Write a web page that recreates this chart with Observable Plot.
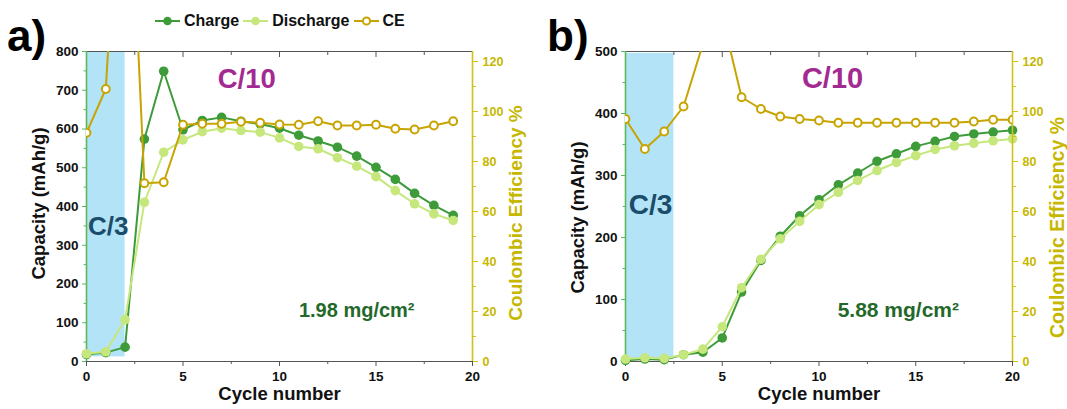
<!DOCTYPE html>
<html>
<head>
<meta charset="utf-8">
<script src="https://cdn.jsdelivr.net/npm/d3@7"></script>
<script src="https://cdn.jsdelivr.net/npm/@observablehq/plot@0.6"></script>
<style>
  html, body { margin: 0; padding: 0; background: #ffffff; }
  #wrap { position: relative; width: 1067px; height: 409px; overflow: hidden; font-family: "Liberation Sans", Arial, sans-serif; }
  .layer { position: absolute; top: 0; }
  .panel-letter { position: absolute; font-weight: bold; font-size: 44px; color: #000; line-height: 1; }
  #legend { position: absolute; left: 155px; top: 12px; display: flex; align-items: center; font-weight: bold; font-size: 16px; color: #111; white-space: nowrap; }
  #legend .item { display: flex; align-items: center; margin-right: 4px; }
  #legend svg { margin-right: 4px; }
</style>
</head>
<body>
<div id="wrap"></div>
<script>
// ---------- data ----------
const cyclesA    = [0, 1, 2, 3, 4, 5, 6, 7, 8, 9, 10, 11, 12, 13, 14, 15, 16, 17, 18, 19];
const chargeA    = [18, 23, 37, 574, 749, 598, 622, 630, 620, 613, 602, 584, 569, 553, 530, 501, 470, 434, 403, 377];
const dischargeA = [20, 25, 108, 411, 540, 572, 593, 602, 596, 592, 577, 555, 549, 526, 504, 477, 441, 407, 381, 364];
const ceA        = [91.5, 109, 240, 71.3, 71.7, 94.7, 95.1, 95.1, 95.9, 95.5, 94.8, 94.7, 96.1, 94.4, 94.4, 94.7, 93.1, 92.8, 94.4, 96.1];

const cyclesB    = [0, 1, 2, 3, 4, 5, 6, 7, 8, 9, 10, 11, 12, 13, 14, 15, 16, 17, 18, 19, 20];
const chargeB    = [2, 4, 3, 11, 15, 38, 112, 163, 202, 235, 261, 285, 304, 323, 335, 347, 355, 363, 367, 370, 373];
const dischargeB = [4, 6, 5, 11, 20, 56, 119, 165, 198, 226, 253, 273, 292, 308, 321, 332, 342, 348, 352, 356, 359];
const ceB        = [97, 85, 92, 102, 127, 138, 105.7, 101, 98, 97, 96.4, 95.5, 95.5, 95.5, 95.5, 95.5, 95.5, 95.5, 96, 96.7, 96.7];

const rateRegionA = [0, 2, 12, 800];   // C/3 shaded span: cycle from, cycle to, capacity from, capacity to
const rateRegionB = [0, 2.5, 3, 497];

const xTicks   = [0, 5, 10, 15, 20];
const xMinor   = [2.5, 7.5, 12.5, 17.5];
const yTicksA  = [0, 100, 200, 300, 400, 500, 600, 700, 800];
const yMinorA  = [50, 150, 250, 350, 450, 550, 650, 750];
const yTicksB  = [0, 100, 200, 300, 400, 500];
const yMinorB  = [50, 150, 250, 350, 450];
const ceTicks  = [0, 20, 40, 60, 80, 100, 120];
const ceMinor  = [10, 30, 50, 70, 90, 110];

const seriesNames = ["Charge", "Discharge", "CE"];
const loadingA = "1.98 mg/cm²";
const loadingB = "5.88 mg/cm²";

// ---------- styles ----------
const FONT = "Liberation Sans, Arial, sans-serif";
const C_CHARGE = "#3d9b3a";
const C_DISCH  = "#c6e77c";
const C_CE     = "#c8a400";
const C_RAXIS  = "#cfc21c";
const C_RTEXT  = "#c6b700";
const C_LAXIS  = "#5cb85c";
const C_FRAME  = "#555555";
const C_SHADE  = "#b3e3f6";
const C_PURPLE = "#a32a90";
const C_C3     = "#1b4d6b";
const C_LOAD   = "#24692b";

const wrap = document.getElementById("wrap");

function makePanel(o) {
  const rows = o.cycles.map((c, i) => ({cycle: c, charge: o.charge[i], discharge: o.discharge[i], ce: o.ce[i]}));
  const common = {
    width: o.width, height: 409,
    marginLeft: o.mLeft, marginRight: o.mRight, marginTop: 51, marginBottom: 48,
    style: {background: "transparent", overflow: "visible", fontFamily: FONT}
  };
  const cap = Plot.plot({
    ...common,
    x: {domain: [0, 20]},
    y: {domain: [0, o.yMax]},
    marks: [
      Plot.rect([o.region], {x1: d => d[0], x2: d => d[1], y1: d => d[2], y2: d => d[3], fill: C_SHADE}),
      Plot.ruleY([o.yMax], {stroke: C_FRAME, strokeWidth: 1.2}),
      Plot.ruleY([0], {stroke: C_FRAME, strokeWidth: 1.2}),
      Plot.axisX(xTicks, {anchor: "bottom", tickSize: 5, tickPadding: 5, fontSize: 13.5, fontWeight: "bold", fill: "#111", stroke: C_FRAME, label: null}),
      Plot.axisX(xMinor, {anchor: "bottom", tickSize: 3, tickFormat: () => "", stroke: C_FRAME, label: null}),
      Plot.axisX(xTicks, {anchor: "top", tickSize: -5, tickFormat: () => "", stroke: C_FRAME, label: null}),
      Plot.axisX(xMinor, {anchor: "top", tickSize: -3, tickFormat: () => "", stroke: C_FRAME, label: null}),
      Plot.axisY(o.yTicks, {anchor: "left", tickSize: 4, tickPadding: 4, fontSize: 13.5, fontWeight: "bold", fill: "#111", stroke: C_LAXIS, label: null}),
      Plot.axisY(o.yMinor, {anchor: "left", tickSize: 2.5, tickFormat: () => "", stroke: C_LAXIS, label: null}),
      Plot.ruleX([0], {stroke: C_LAXIS, strokeWidth: 1.6}),
      Plot.line(rows, {x: "cycle", y: "charge", stroke: C_CHARGE, strokeWidth: 2}),
      Plot.dot(rows, {x: "cycle", y: "charge", r: 4.8, fill: C_CHARGE}),
      Plot.line(rows, {x: "cycle", y: "discharge", stroke: C_DISCH, strokeWidth: 2}),
      Plot.dot(rows, {x: "cycle", y: "discharge", r: 4.8, fill: C_DISCH}),
      Plot.text([{t: "C/3", x: o.c3[0], y: o.c3[1]}], {x: "x", y: "y", text: "t", fill: C_C3, fontSize: o.c3[2], fontWeight: "bold"}),
      Plot.text([{t: "C/10", x: o.c10[0], y: o.c10[1]}], {x: "x", y: "y", text: "t", fill: C_PURPLE, fontSize: o.c10[2], fontWeight: "bold"}),
      Plot.text([{t: o.loading, x: o.load[0], y: o.load[1]}], {x: "x", y: "y", text: "t", fill: C_LOAD, fontSize: o.load[2], fontWeight: "bold"}),
      Plot.text(["Capacity (mAh/g)"], {frameAnchor: "left", textAnchor: "middle", rotate: -90, dx: -47.5, dy: o.capDy, fontSize: 18.5, fontWeight: "bold", fill: "#111"}),
      Plot.text(["Cycle number"], {frameAnchor: "bottom", dy: 38, fontSize: 18.5, fontWeight: "bold", fill: "#111"})
    ]
  });
  const ce = Plot.plot({
    ...common,
    x: {domain: [0, 20], axis: null},
    y: {domain: [0, 124]},
    marks: [
      Plot.axisY(ceTicks, {anchor: "right", tickSize: 5, tickPadding: 5, fontSize: 12.5, fontWeight: "bold", fill: C_RTEXT, stroke: C_RAXIS, label: null}),
      Plot.axisY(ceMinor, {anchor: "right", tickSize: 3, tickFormat: () => "", stroke: C_RAXIS, label: null}),
      Plot.ruleX([20], {stroke: C_RAXIS, strokeWidth: 1.6}),
      Plot.line(rows, {x: "cycle", y: "ce", stroke: C_CE, strokeWidth: 2, clip: true}),
      Plot.dot(rows, {x: "cycle", y: "ce", r: 3.9, stroke: C_CE, strokeWidth: 2, fill: "white", clip: true}),
      Plot.text(["Coulombic Efficiency %"], {frameAnchor: "right", textAnchor: "middle", rotate: -90, dx: o.ceDx, dy: o.ceDy, fontSize: o.ceFs, fontWeight: "bold", fill: C_RTEXT})
    ]
  });
  for (const svg of [cap, ce]) {
    svg.classList.add("layer");
    svg.style.left = o.left + "px";
    wrap.appendChild(svg);
  }
  const letter = document.createElement("div");
  letter.className = "panel-letter";
  letter.textContent = o.letter;
  letter.style.left = o.letterX + "px";
  letter.style.top = "14px";
  wrap.appendChild(letter);
}

makePanel({
  letter: "a)", letterX: 7, left: 0, width: 540, mLeft: 86, mRight: 68,
  cycles: cyclesA, charge: chargeA, discharge: dischargeA, ce: ceA,
  yMax: 800, yTicks: yTicksA, yMinor: yMinorA, region: rateRegionA,
  c3: [1.13, 347, 26], c10: [8.3, 729, 27.5], load: [14.0, 131, 20], loading: loadingA,
  capDy: -3, ceDx: 43, ceDy: 6.5, ceFs: 19
});
makePanel({
  letter: "b)", letterX: 547, left: 540, width: 527, mLeft: 85, mRight: 55,
  cycles: cyclesB, charge: chargeB, discharge: dischargeB, ce: ceB,
  yMax: 500, yTicks: yTicksB, yMinor: yMinorB, region: rateRegionB,
  c3: [1.29, 252, 28], c10: [10.7, 456, 29], load: [14.1, 82, 21], loading: loadingB,
  capDy: 11, ceDx: 45, ceDy: 21, ceFs: 19.5
});

// ---------- legend ----------
const legend = document.createElement("div");
legend.id = "legend";
const symbols = {
  "Charge":    `<svg width="25" height="12"><line x1="0" y1="6" x2="25" y2="6" stroke="${C_CHARGE}" stroke-width="2"/><circle cx="12.5" cy="6" r="4.3" fill="${C_CHARGE}"/></svg>`,
  "Discharge": `<svg width="25" height="12"><line x1="0" y1="6" x2="25" y2="6" stroke="${C_DISCH}" stroke-width="2"/><circle cx="12.5" cy="6" r="4.3" fill="${C_DISCH}"/></svg>`,
  "CE":        `<svg width="25" height="12"><line x1="0" y1="6" x2="25" y2="6" stroke="${C_CE}" stroke-width="2"/><circle cx="12.5" cy="6" r="3.6" fill="white" stroke="${C_CE}" stroke-width="2"/></svg>`
};
for (const name of seriesNames) {
  const it = document.createElement("div");
  it.className = "item";
  it.innerHTML = symbols[name] + `<span>${name}</span>`;
  legend.appendChild(it);
}
wrap.appendChild(legend);
</script>
</body>
</html>
